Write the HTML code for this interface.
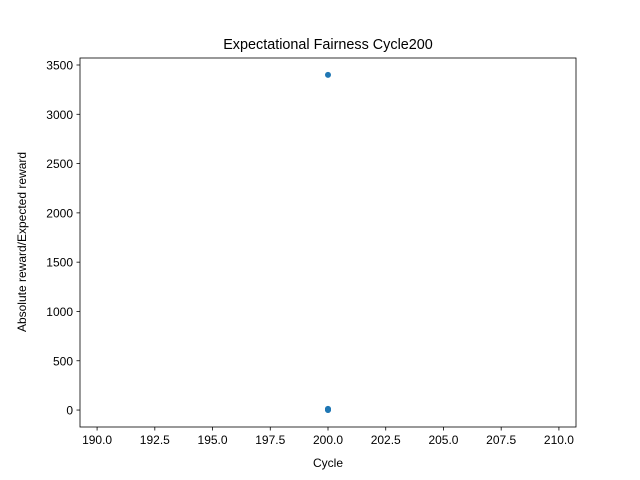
<!DOCTYPE html>
<html><head><meta charset="utf-8"><style>body{margin:0;background:#fff}svg{display:block;font-family:"Liberation Sans","DejaVu Sans",sans-serif}</style></head>
<body>
<svg id="chart" width="640" height="480"></svg>
<script>
const xTicks=[190,192.5,195,197.5,200,202.5,205,207.5,210];
const xTickLabels=["190.0","192.5","195.0","197.5","200.0","202.5","205.0","207.5","210.0"];
const yTicks=[0,500,1000,1500,2000,2500,3000,3500];
const xValues=[200,200,200,200,200,200];
const yValues=[3400,12,8,5,2,0];
const NS="http://www.w3.org/2000/svg";
const svg=document.getElementById('chart');
const L=80,R=576,T=58,B=427;
const xMin=189.26,xMax=210.74,yMin=-172,yMax=3571;
const sx=v=>L+(v-xMin)/(xMax-xMin)*(R-L);
const sy=v=>B-(v-yMin)/(yMax-yMin)*(B-T);
function mk(t,a,p){const e=document.createElementNS(NS,t);for(const k in a)e.setAttribute(k,a[k]);(p||svg).appendChild(e);return e;}
const title=mk('text',{x:328,y:49,'text-anchor':'middle','font-size':14.4,fill:'#000'});


title.textContent='Expectational Fairness Cycle200';
xTicks.forEach((v,i)=>{const g=mk('g',{});


mk('line',{x1:sx(v),x2:sx(v),y1:B,y2:B+3.5,stroke:'#000','stroke-width':0.8},g);
const t=mk('text',{x:sx(v),y:B+17,'text-anchor':'middle','font-size':12,fill:'#000'},g);t.textContent=xTickLabels[i];});
yTicks.forEach(v=>{const g=mk('g',{});


mk('line',{x1:L-3.5,x2:L,y1:sy(v),y2:sy(v),stroke:'#000','stroke-width':0.8},g);
const t=mk('text',{x:L-7,y:sy(v)+4.5,'text-anchor':'end','font-size':12,fill:'#000'},g);t.textContent=String(v);});
xValues.forEach((v,i)=>{const c=mk('circle',{cx:sx(v),cy:sy(yValues[i]),r:3,fill:'#1f77b4'});

});
const fr=mk('rect',{x:L,y:T,width:R-L,height:B-T,fill:'none',stroke:'#000','stroke-width':0.8});


const xl=mk('text',{x:328,y:467,'text-anchor':'middle','font-size':12,fill:'#000'});


xl.textContent='Cycle';
const yl=mk('text',{x:26,y:242,'text-anchor':'middle','font-size':12,fill:'#000',transform:'rotate(-90 26 242)'});


yl.textContent='Absolute reward/Expected reward';
</script>
</body></html>
